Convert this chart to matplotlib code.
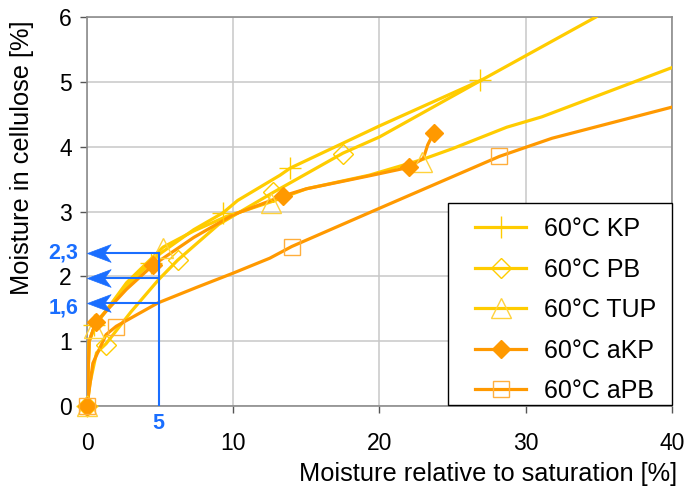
import matplotlib
matplotlib.use("Agg")
import matplotlib.pyplot as plt
from matplotlib.lines import Line2D
from matplotlib.patches import Rectangle
from matplotlib.path import Path

plt.rcParams['font.family'] = ['Liberation Sans', 'DejaVu Sans']

# ---- data ----
labels = ["60°C KP", "60°C PB", "60°C TUP", "60°C aKP", "60°C aPB"]

kp_line_x = [0, 0.15, 0.6, 2.7, 5.0, 7.3, 9.3, 10.3, 13.2, 13.9, 20.0, 27.0]
kp_line_y = [0, 1.0, 1.28, 1.85, 2.35, 2.72, 2.98, 3.17, 3.56, 3.67, 4.32, 5.03]
kp_mark_x = [0, 0.5, 4.4, 9.3, 13.9, 26.9]
kp_mark_y = [0, 1.25, 2.2, 2.98, 3.67, 5.03]

pb_line_x = [0, 0.2, 0.65, 1.3, 3.0, 4.9, 6.2, 9.0, 12.7, 17.5, 20.0, 27.0, 34.8]
pb_line_y = [0, 0.35, 0.82, 0.96, 1.45, 1.95, 2.25, 2.8, 3.29, 3.9, 4.15, 5.03, 6.0]
pb_mark_x = [0, 1.3, 6.2, 12.7, 17.5]
pb_mark_y = [0, 0.94, 2.25, 3.3, 3.89]

tup_line_x = [0, 0.15, 0.5, 2.7, 5.2, 7.3, 9.5, 12.6, 15.0, 19.3, 22.9, 25.0, 28.7, 31.1, 40.0]
tup_line_y = [0, 1.0, 1.22, 1.9, 2.45, 2.7, 2.92, 3.15, 3.35, 3.56, 3.8, 3.97, 4.3, 4.46, 5.22]
tup_mark_x = [0, 0.5, 5.2, 12.6, 22.9]
tup_mark_y = [0, 1.2, 2.44, 3.13, 3.77]

akp_line_x = [0, 0.15, 0.6, 2.7, 4.5, 7.3, 10.0, 13.4, 15.0, 19.3, 22.0, 23.0, 23.3, 23.7]
akp_line_y = [0, 1.0, 1.29, 1.8, 2.17, 2.6, 2.95, 3.24, 3.35, 3.55, 3.68, 3.82, 4.03, 4.21]
akp_mark_x = [0, 0.6, 4.5, 13.4, 22.0, 23.7]
akp_mark_y = [0, 1.29, 2.17, 3.24, 3.68, 4.21]

apb_line_x = [0, 0.4, 1.3, 2.0, 4.85, 7.5, 10.0, 12.5, 14.0, 20.0, 28.2, 31.8, 40.0]
apb_line_y = [0, 0.66, 1.1, 1.23, 1.59, 1.83, 2.05, 2.28, 2.46, 3.05, 3.85, 4.13, 4.61]
apb_mark_x = [0, 2.0, 14.0, 28.2]
apb_mark_y = [0, 1.22, 2.46, 3.85]

anno_x = 4.9
anno_levels = [2.36, 1.97, 1.585]
anno_texts = ["2,3", "", "1,6"]

xticks = [0, 10, 20, 30, 40]
yticks = [0, 1, 2, 3, 4, 5, 6]

# ---- styles ----
YEL = '#FFCC00'
ORG = '#FF9900'
BLUE = '#1A6EFF'
styles = [
    dict(color=YEL, marker='+', mfc='none', mec=YEL, ms=16, mew=1.0),
    dict(color=YEL, marker='D', mfc='none', mec=YEL, ms=10.5, mew=1.0),
    dict(color=YEL, marker='^', mfc='none', mec='#FFD23C', ms=14, mew=1.0),
    dict(color=ORG, marker='D', mfc=ORG, mec=ORG, ms=9.5, mew=1.0),
    dict(color=ORG, marker='s', mfc='none', mec='#FFAE3C', ms=12, mew=1.0),
]
series = [
    (kp_line_x, kp_line_y, kp_mark_x, kp_mark_y),
    (pb_line_x, pb_line_y, pb_mark_x, pb_mark_y),
    (tup_line_x, tup_line_y, tup_mark_x, tup_mark_y),
    (akp_line_x, akp_line_y, akp_mark_x, akp_mark_y),
    (apb_line_x, apb_line_y, apb_mark_x, apb_mark_y),
]

W, H = 693, 490
fig = plt.figure(figsize=(W / 100, H / 100), dpi=100)
AX_L, AX_R, AX_T, AX_B = 87, 672, 17, 406
ax = fig.add_axes([AX_L / W, 1 - AX_B / H, (AX_R - AX_L) / W, (AX_B - AX_T) / H])

LW = 2.3
handles = []
for (lx, ly, mx, my), st, lab in zip(series, styles, labels):
    ax.plot(lx, ly, color=st['color'], lw=LW, solid_joinstyle='round', zorder=3)
    ax.plot(mx, my, ls='none', marker=st['marker'], mfc=st['mfc'], mec=st['mec'],
            ms=st['ms'], mew=st['mew'], zorder=4, clip_on=False)
    handles.append(Line2D([], [], color=st['color'], lw=LW, marker=st['marker'],
                          mfc=st['mfc'], mec=st['mec'], ms=st['ms'], mew=st['mew']))

ax.set_xlim(0, 40)
ax.set_ylim(0, 6)
ax.set_xticks(xticks)
ax.set_yticks(yticks)
ax.grid(True, color='#C8C8C8', lw=1.1, zorder=0)
ax.set_axisbelow(True)
for s in ax.spines.values():
    s.set_color('#8C8C8C')
    s.set_linewidth(1.2)
ax.tick_params(axis='both', labelsize=16.5, colors='#555555', labelcolor='black',
               length=5, width=1.0, direction='out')
ax.tick_params(axis='x', pad=14)
ax.tick_params(axis='y', pad=6)

fig.text(488 / W, 1 - 481 / H, "Moisture relative to saturation [%]", fontsize=18.3,
         ha='center', va='baseline')
fig.text(22 / W, 1 - 158 / H, "Moisture in cellulose [%]", fontsize=18.3,
         ha='center', va='center', rotation=90)

# blue annotations: stealth arrow heads
stealth = Path([(0, 0), (2, 0.75), (1.45, 0), (2, -0.75), (0, 0)],
               [Path.MOVETO, Path.LINETO, Path.LINETO, Path.LINETO, Path.CLOSEPOLY])
ax.plot([anno_x, anno_x], [0, anno_levels[0]], color=BLUE, lw=1.5, zorder=6)
for yv, txt in zip(anno_levels, anno_texts):
    ax.plot([anno_x, 1.0], [yv, yv], color=BLUE, lw=1.5, zorder=6)
    ax.plot([0.0], [yv], ls='none', marker=stealth, ms=34, mfc=BLUE, mec=BLUE,
            mew=0.5, zorder=7, clip_on=False)
    if txt:
        ax.text(-0.6, yv - (0.0 if yv > 2 else 0.07), txt, color=BLUE, fontsize=15.5,
                fontweight='bold', ha='right', va='center', zorder=8)
ax.text(anno_x, -0.27, "5", color=BLUE, fontsize=15.5, fontweight='bold',
        ha='center', va='center')

# legend frame drawn explicitly to match padding
LG_L, LG_R, LG_T, LG_B = 448, 672, 203, 405
fx0 = (LG_L - AX_L) / (AX_R - AX_L)
fy0 = (AX_B - LG_B) / (AX_B - AX_T)
ax.add_patch(Rectangle((fx0, fy0), (LG_R - LG_L) / (AX_R - AX_L),
                       (LG_B - LG_T) / (AX_B - AX_T), transform=ax.transAxes,
                       facecolor='white', edgecolor='black', lw=1.0, zorder=9,
                       clip_on=False))
leg = ax.legend(handles, labels, loc='upper left',
                bbox_to_anchor=((475 - AX_L) / (AX_R - AX_L), (AX_B - 217) / (AX_B - AX_T)),
                fontsize=18, frameon=False, borderaxespad=0.0, borderpad=0.0,
                handlelength=2.05, labelspacing=0.66, handletextpad=0.7)
leg.set_zorder(10)

fig.savefig("out.png", dpi=100)
